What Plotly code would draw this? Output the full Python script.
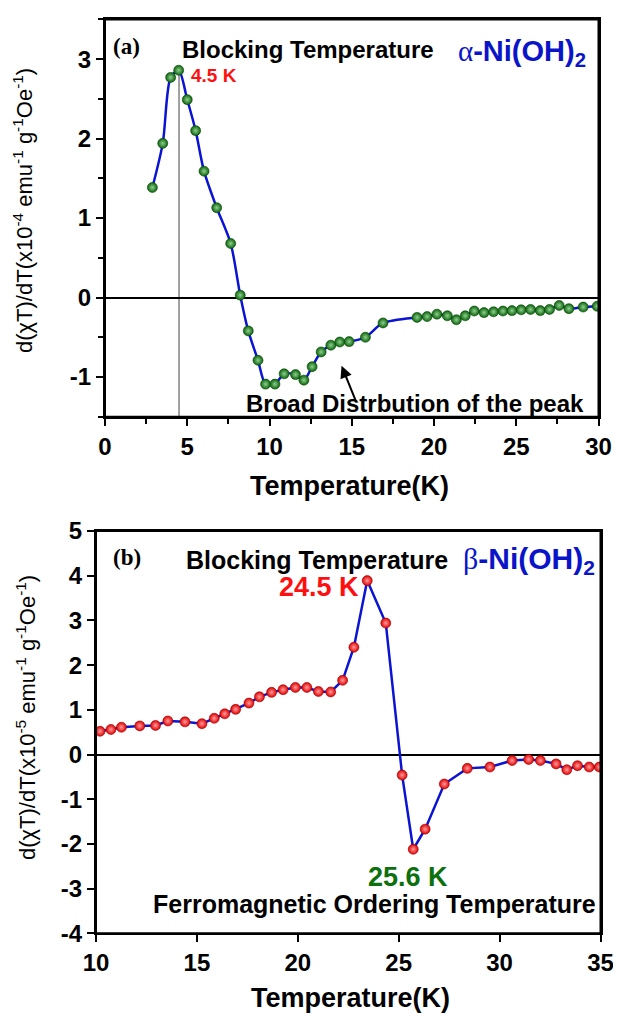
import plotly.graph_objects as go

# Panel (a): alpha-Ni(OH)2
temp_a = [2.88, 3.51, 3.99, 4.48, 5.0, 5.51, 6.02, 6.79, 7.64, 8.22, 8.71, 9.30, 9.76,
          10.33, 10.89, 11.58, 12.09, 12.59, 13.14, 13.73, 14.27, 14.84, 15.83, 16.9,
          18.97, 19.58, 20.18, 20.81, 21.36, 21.9, 22.45, 23.04, 23.62, 24.19, 24.74,
          25.3, 25.87, 26.46, 27.02, 27.61, 28.2, 29.07, 29.92]
dxt_a = [1.385, 1.94, 2.77, 2.86, 2.49, 2.10, 1.59, 1.13, 0.68, 0.03, -0.42, -0.79, -1.09,
         -1.09, -0.96, -0.97, -1.04, -0.87, -0.685, -0.60, -0.56, -0.555, -0.50, -0.32,
         -0.25, -0.24, -0.21, -0.23, -0.28, -0.23, -0.17, -0.19, -0.18, -0.17, -0.165,
         -0.155, -0.15, -0.165, -0.15, -0.10, -0.14, -0.12, -0.11]

# Panel (b): beta-Ni(OH)2
temp_b = [10.2, 10.74, 11.26, 12.17, 12.95, 13.56, 14.41, 15.25, 15.86, 16.38, 16.92,
          17.58, 18.1, 18.7, 19.27, 19.88, 20.45, 21.02, 21.63, 22.22, 22.78, 23.44,
          24.36, 25.17, 25.72, 26.31, 27.26, 28.4, 29.52, 30.62, 31.44, 32.02, 32.8,
          33.33, 33.86, 34.44, 34.94]
dxt_b = [0.52, 0.56, 0.61, 0.64, 0.65, 0.75, 0.73, 0.69, 0.81, 0.91, 1.01, 1.15, 1.29,
         1.39, 1.45, 1.50, 1.50, 1.41, 1.40, 1.66, 2.40, 3.89, 2.94, -0.46, -2.12,
         -1.67, -0.66, -0.31, -0.28, -0.135, -0.11, -0.135, -0.21, -0.34, -0.25, -0.28,
         -0.28]

xticks_a = [0, 5, 10, 15, 20, 25, 30]
yticks_a = [-1, 0, 1, 2, 3]
xticks_b = [10, 15, 20, 25, 30, 35]
yticks_b = [-4, -3, -2, -1, 0, 1, 2, 3, 4, 5]

blocking_a = 4.5

# page body has an 8px margin; figure fills the rest of the 621x1022 window
OFF = 8
W, H = 621 - 2 * OFF, 1022 - 2 * OFF
FONT = "Arial, Liberation Sans, sans-serif"
SERIF = "Times New Roman, Liberation Serif, serif"
BLUE = "#0a14d2"


def px_x(p):
    return (p - OFF) / W


def px_y(p):
    return 1 - (p - OFF) / H


def labels(vals):
    return ["<b>%s</b>" % ("%g" % v) for v in vals]


fig = go.Figure()
fig.add_trace(go.Scatter(
    x=temp_a, y=dxt_a, mode="lines+markers", xaxis="x", yaxis="y",
    line=dict(color=BLUE, width=2.5, shape="spline", smoothing=0.8),
    marker=dict(size=10, color="#0a640a", line=dict(color="#064806", width=0.6),
                gradient=dict(type="radial", color="#8fcf8f")),
    showlegend=False))
fig.add_trace(go.Scatter(
    x=temp_b, y=dxt_b, mode="lines+markers", xaxis="x2", yaxis="y2",
    line=dict(color=BLUE, width=2.5),
    marker=dict(size=10, color="#e00000", line=dict(color="#a00000", width=0.6),
                gradient=dict(type="radial", color="#ff9c9c")),
    showlegend=False))

axis_common = dict(showline=True, linecolor="black", linewidth=2, mirror=True,
                   ticks="outside", tickcolor="black", tickwidth=2, ticklen=7,
                   showgrid=False, automargin=False, ticklabeloverflow="allow",
                   tickfont=dict(family=FONT, size=24, color="black"))

fig.update_layout(
    width=W, height=H, paper_bgcolor="white", plot_bgcolor="white",
    margin=dict(l=0, r=0, t=0, b=0),
    xaxis=dict(domain=[px_x(105), px_x(598.5)], anchor="y", range=[0, 30],
               tickvals=xticks_a, ticktext=labels(xticks_a),
               minor=dict(dtick=2.5, ticks="outside", ticklen=5,
                          tickcolor="black", tickwidth=2),
               zeroline=False, **axis_common),
    yaxis=dict(domain=[px_y(416.7), px_y(19.4)], anchor="x", range=[-1.5, 3.5],
               tickvals=yticks_a, ticktext=labels(yticks_a),
               minor=dict(dtick=0.5, ticks="outside", ticklen=5,
                          tickcolor="black", tickwidth=2),
               zeroline=True, zerolinecolor="black", zerolinewidth=2, **axis_common),
    xaxis2=dict(domain=[px_x(96), px_x(600.5)], anchor="y2", range=[10, 35],
                tickvals=xticks_b, ticktext=labels(xticks_b),
                zeroline=False, **axis_common),
    yaxis2=dict(domain=[px_y(933.3), px_y(531)], anchor="x2", range=[-4, 5],
                tickvals=yticks_b, ticktext=labels(yticks_b),
                zeroline=True, zerolinecolor="black", zerolinewidth=2, **axis_common),
)

# frame around each panel
for xr, yr in (("x domain", "y domain"), ("x2 domain", "y2 domain")):
    fig.add_shape(type="rect", xref=xr, yref=yr, x0=0, x1=1, y0=0, y1=1,
                  line=dict(color="black", width=2), fillcolor="rgba(0,0,0,0)")

fig.add_shape(type="line", xref="x", yref="y", x0=blocking_a, x1=blocking_a,
              y0=-1.5, y1=max(dxt_a), line=dict(color="#444444", width=1),
              layer="below")


def txt(x, y, text, size, color="black", bold=True, family=FONT, xanchor="center",
        angle=0):
    fig.add_annotation(x=x, y=y, xref="paper", yref="paper", text=text, showarrow=False,
                       xanchor=xanchor, yanchor="middle", textangle=angle,
                       font=dict(family=family, size=size, color=color,
                                 weight="bold" if bold else "normal"))


ALPHA = "<span style='font-family:Liberation Serif;font-weight:normal'>α</span>"
BETA = "<span style='font-family:Liberation Serif;font-weight:normal'>β</span>"

# Panel (a) texts
txt(px_x(111), px_y(46), "(a)", 23, family=SERIF, xanchor="left")
txt(px_x(180), px_y(49), "Blocking Temperature", 24, xanchor="left")
txt(px_x(189), px_y(75), "4.5 K", 19, color="#ff1010", xanchor="left")
txt(px_x(456), px_y(53), ALPHA + "-Ni(OH)<sub>2</sub>", 29, color="#0a14c8",
    xanchor="left")
txt(px_x(244), px_y(404), "Broad Distrbution of the peak", 24, xanchor="left")
txt(px_x(349), px_y(486), "Temperature(K)", 27)
txt(px_x(23), px_y(211),
    "d(χT)/dT(x10<sup>-4</sup> emu<sup>-1</sup> g<sup>-1</sup>Oe<sup>-1</sup>)",
    22, bold=False, angle=-90)
fig.add_annotation(x=14.38, y=-0.86, ax=15.3, ay=-1.33, xref="x", yref="y",
                   axref="x", ayref="y", showarrow=True, arrowhead=2, arrowsize=1.2,
                   arrowwidth=2, arrowcolor="black", text="")

# Panel (b) texts
txt(px_x(111), px_y(557), "(b)", 23, family=SERIF, xanchor="left")
txt(px_x(184), px_y(560), "Blocking Temperature", 25, xanchor="left")
txt(px_x(277), px_y(587), "24.5 K", 27, color="#ff1010", xanchor="left")
txt(px_x(461), px_y(560), BETA + "-Ni(OH)<sub>2</sub>", 30, color="#0a14c8",
    xanchor="left")
txt(px_x(408), px_y(877), "25.6 K", 27, color="#0c700c")
txt(px_x(151), px_y(904), "Ferromagnetic Ordering Temperature", 25, xanchor="left")
txt(px_x(350), px_y(998), "Temperature(K)", 27)
txt(px_x(26), px_y(718),
    "d(χT)/dT(x10<sup>-5</sup> emu<sup>-1</sup> g<sup>-1</sup>Oe<sup>-1</sup>)",
    22, bold=False, angle=-90)

fig.write_html("out.html")
